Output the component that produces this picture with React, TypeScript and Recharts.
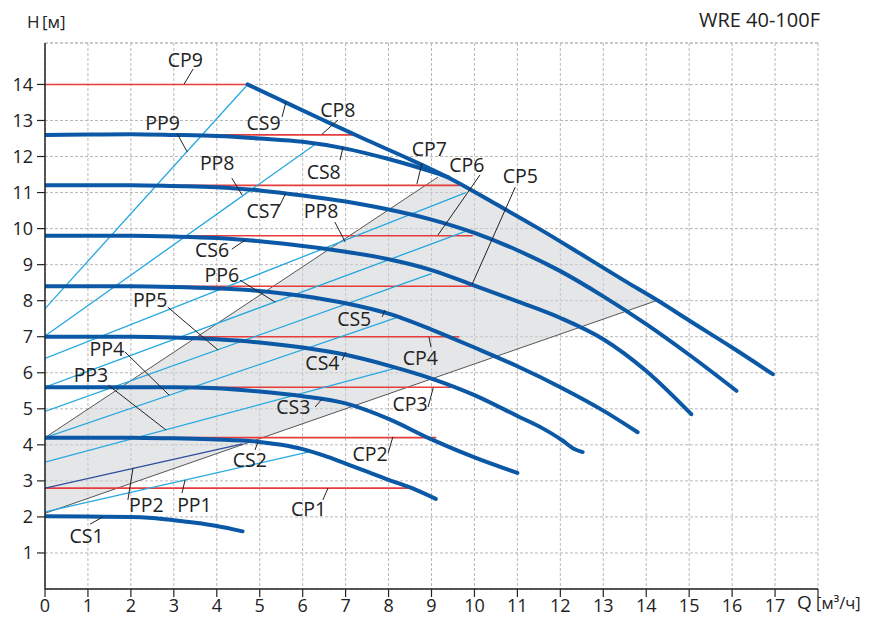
import { ComposedChart, Line, Area, XAxis, YAxis, CartesianGrid, ReferenceLine, ReferenceDot } from 'recharts';

type Pt = [number, number];

// constant speed curves (Q m3/h, H m)
const cs1: Pt[] = [[0, 2.02], [1, 2.01], [2, 2.0], [2.5, 1.97], [3, 1.91], [3.5, 1.84], [4, 1.75], [4.6, 1.6]];
const cs2: Pt[] = [[0, 4.2], [1, 4.2], [2, 4.2], [3, 4.18], [4, 4.15], [5, 4.08], [5.5, 4.0], [6, 3.88], [6.5, 3.7], [7, 3.48], [7.5, 3.26], [8, 3.03], [8.6, 2.77], [9.1, 2.5]];
const cs3: Pt[] = [[0, 5.6], [1, 5.6], [2, 5.6], [3, 5.6], [4, 5.57], [5, 5.48], [6, 5.35], [7, 5.15], [8, 4.72], [9, 4.15], [10, 3.65], [11, 3.22]];
const cs4: Pt[] = [[0, 7.0], [1, 7.0], [2, 7.0], [3, 6.98], [4, 6.93], [5, 6.84], [6, 6.7], [7, 6.5], [8, 6.2], [9, 5.84], [10, 5.38], [11, 4.8], [11.6, 4.45], [12.05, 4.12], [12.3, 3.9], [12.52, 3.8]];
const cs5: Pt[] = [[0, 8.4], [1, 8.4], [2, 8.4], [3, 8.38], [4, 8.34], [5, 8.27], [6, 8.13], [7, 7.93], [8, 7.64], [9, 7.2], [10, 6.7], [11, 6.18], [12, 5.6], [13, 4.95], [13.8, 4.35]];
const cs6: Pt[] = [[0, 9.8], [1, 9.8], [2, 9.8], [3, 9.78], [4, 9.74], [5, 9.65], [6, 9.52], [7, 9.36], [8, 9.15], [9, 8.85], [10, 8.42], [11, 7.98], [12, 7.52], [13, 6.93], [14, 6.05], [15.05, 4.85]];
const cs7: Pt[] = [[0, 11.2], [1, 11.2], [2, 11.2], [3, 11.18], [4, 11.15], [5, 11.06], [6, 10.92], [7, 10.75], [8, 10.53], [9, 10.25], [10, 9.88], [11, 9.4], [12, 8.82], [13, 8.12], [14, 7.35], [15, 6.5], [16.1, 5.5]];
const cs8: Pt[] = [[0, 12.6], [1, 12.61], [2, 12.62], [3, 12.6], [4, 12.57], [5, 12.5], [6, 12.41], [7, 12.22], [8, 11.93], [9, 11.58], [9.4, 11.42]];
const cs9: Pt[] = [[4.72, 14.0], [5.5, 13.56], [6.5, 13.0], [7.5, 12.45], [8.5, 11.92], [9.5, 11.35], [10.5, 10.68], [11.5, 10.0], [12.5, 9.28], [13.5, 8.55], [14.26, 8.01], [15, 7.45], [16, 6.7], [16.95, 5.96]];
const csCurves = [cs1, cs2, cs3, cs4, cs5, cs6, cs7, cs8, cs9];

// constant pressure lines CP1..CP9
const cpH = [2.8, 4.2, 5.6, 7.0, 8.4, 9.8, 11.2, 12.6, 14.0];
const cpEndQ = [8.53, 9.11, 9.46, 9.65, 9.93, 9.96, 9.65, 7.25, 4.72];

// proportional pressure lines PP1..PP9
const ppStartH = [2.14, 2.8, 3.52, 4.2, 4.93, 5.6, 6.4, 7.02, 7.78];
const ppEndQ = [6.12, 4.6, 8.17, 8.29, 9.0, 9.85, 9.8, 6.32, 4.72];
const ppEndH = [3.8, 4.03, 6.13, 7.57, 8.75, 9.95, 11.0, 12.36, 14.0];

// working range borders and shaded band
const lowBorder: Pt[] = [[0, 2.1], [14.26, 8.01]];
const highBorder: Pt[] = [[0, 4.2], [9.15, 11.43]];
const bandQ = [0, 9.15, 9.5, 10.5, 11.5, 12.5, 13.5, 14.26];
const bandLow = [2.1, 5.89, 6.04, 6.45, 6.87, 7.28, 7.7, 8.01];
const bandHigh = [4.2, 11.43, 11.35, 10.68, 10.0, 9.28, 8.55, 8.01];

const xTicks = [0, 1, 2, 3, 4, 5, 6, 7, 8, 9, 10, 11, 12, 13, 14, 15, 16, 17, 18];
const yTicks = [1, 2, 3, 4, 5, 6, 7, 8, 9, 10, 11, 12, 13, 14];

// curve labels: name, anchor (Q, H), leader from -> to
const labelNames = ['CP9', 'PP9', 'CS9', 'CP8', 'PP8', 'CS8', 'CP7', 'CS7', 'CP6', 'CP5', 'PP8', 'CS6', 'PP6', 'PP5', 'CS5', 'PP4', 'CP4', 'CS4', 'PP3', 'CP3', 'CS3', 'CS2', 'CP2', 'PP2', 'PP1', 'CP1', 'CS1'];
const labelQ = [3.27, 2.74, 5.09, 6.82, 4.01, 6.49, 8.95, 5.09, 9.82, 11.07, 6.43, 3.89, 4.12, 2.45, 7.2, 1.44, 8.74, 6.46, 1.07, 8.5, 5.78, 4.77, 7.57, 2.36, 3.48, 6.14, 0.97];
const labelH = [14.67, 12.94, 12.94, 13.3, 11.81, 11.56, 12.21, 10.5, 11.76, 11.45, 10.5, 9.41, 8.71, 8.03, 7.48, 6.65, 6.42, 6.28, 5.94, 5.12, 5.04, 3.59, 3.73, 2.33, 2.34, 2.21, 1.48];
const leaderFrom: Pt[] = [[3.45, 14.43], [3.07, 12.65], [5.52, 13.1], [6.82, 13.01], [4.35, 11.4], [6.87, 11.9], [8.78, 11.82], [5.45, 10.6], [10.13, 11.49], [10.95, 11.15], [6.75, 10.18], [4.35, 9.43], [4.54, 8.57], [2.86, 7.82], [7.85, 7.55], [1.86, 6.58], [8.99, 6.71], [6.92, 6.35], [1.47, 5.66], [8.92, 5.05], [6.29, 5.05], [4.89, 3.86], [7.99, 3.77], [1.93, 2.47], [3.19, 2.66], [6.47, 2.47], [1.05, 1.8]];
const leaderTo: Pt[] = [[3.24, 14.01], [3.31, 12.13], [5.61, 13.51], [6.45, 12.62], [4.59, 10.93], [6.94, 12.26], [8.66, 11.24], [5.61, 10.99], [9.15, 9.82], [9.94, 8.44], [6.99, 9.63], [4.66, 9.68], [5.36, 7.96], [4.03, 6.63], [7.92, 7.74], [2.89, 5.38], [8.94, 6.99], [7.01, 6.58], [2.82, 4.41], [9.04, 5.58], [6.45, 5.27], [4.96, 4.08], [8.1, 4.22], [2.05, 3.36], [3.26, 3.02], [6.59, 2.8], [1.35, 2.0]];

const FONT = "'Open Sans', 'Noto Sans', sans-serif";
const TXT = '#222';

const rows = (pts: Pt[]) => pts.map(([q, h]) => ({ q, h }));
const bandRows = bandQ.map((q, i) => ({ q, band: [bandLow[i], bandHigh[i]] }));

export default function App() {
  return (
    <div style={{ position: 'absolute', left: 0, top: 0, width: 871, height: 620, fontFamily: FONT, color: TXT, background: '#fff' }}>
      <ComposedChart width={871} height={620} margin={{ top: 43, right: 53, bottom: 0, left: 0 }} style={{ fontFamily: FONT }}>
        <CartesianGrid stroke="#b8b8b8" strokeDasharray="3 2" />
        <XAxis
          type="number"
          dataKey="q"
          domain={[0, 18]}
          ticks={xTicks}
          allowDataOverflow
          interval={0}
          height={31}
          tickSize={8}
          tickFormatter={(v: number) => (v === 18 ? '' : String(v))}
          tick={{ fontSize: 18, fill: TXT }}
          axisLine={{ stroke: TXT, strokeWidth: 1.5 }}
          tickLine={{ stroke: TXT, strokeWidth: 1.2 }}
        />
        <YAxis
          type="number"
          domain={[0, 15.15]}
          ticks={yTicks}
          allowDataOverflow
          interval={0}
          width={45}
          tickSize={8}
          tickMargin={4}
          tick={{ fontSize: 18, fill: TXT }}
          axisLine={{ stroke: TXT, strokeWidth: 1.5 }}
          tickLine={{ stroke: TXT, strokeWidth: 1.2 }}
        />
        <ReferenceLine y={15.15} stroke="#b8b8b8" strokeDasharray="3 2" />

        <Area data={bandRows} dataKey="band" type="linear" stroke="none" fill="#cfd1d4" fillOpacity={0.55} isAnimationActive={false} />

        <Line data={rows(lowBorder)} dataKey="h" type="linear" stroke="#555" strokeWidth={1} dot={false} isAnimationActive={false} />
        <Line data={rows(highBorder)} dataKey="h" type="linear" stroke="#555" strokeWidth={1} dot={false} isAnimationActive={false} />

        {cpH.map((h, i) => (
          <Line key={`cp${i}`} data={rows([[0, h], [cpEndQ[i], h]])} dataKey="h" type="linear" stroke="#e63c3c" strokeWidth={1.6} dot={false} isAnimationActive={false} />
        ))}

        {ppStartH.map((h, i) => (
          <Line
            key={`pp${i}`}
            data={rows([[0, h], [ppEndQ[i], ppEndH[i]]])}
            dataKey="h"
            type="linear"
            stroke={i === 1 ? '#2b4c9e' : '#25a8e0'}
            strokeWidth={1.3}
            dot={false}
            isAnimationActive={false}
          />
        ))}

        {csCurves.map((c, i) => (
          <Line key={`cs${i}`} data={rows(c)} dataKey="h" type="monotone" stroke="#0b59a6" strokeWidth={4} strokeLinecap="round" dot={false} isAnimationActive={false} />
        ))}

        {leaderFrom.map((p, i) => (
          <ReferenceLine
            key={`ld${i}`}
            segment={[{ x: p[0], y: p[1] }, { x: leaderTo[i][0], y: leaderTo[i][1] }]}
            stroke={TXT}
            strokeWidth={1}
            ifOverflow="visible"
          />
        ))}

        {labelNames.map((name, i) => (
          <ReferenceDot
            key={`lb${i}`}
            x={labelQ[i]}
            y={labelH[i]}
            r={0}
            fill="none"
            stroke="none"
            ifOverflow="visible"
            label={{ value: name, position: 'center', fontSize: 19.5, fill: TXT, fontFamily: FONT }}
          />
        ))}
      </ComposedChart>

      <div style={{ position: 'absolute', left: 27, top: 13, fontSize: 17, lineHeight: 1 }}>H</div>
      <div style={{ position: 'absolute', left: 42, top: 13, fontSize: 17, lineHeight: 1 }}>[м]</div>
      <div style={{ position: 'absolute', right: 51, top: 10, fontSize: 20, lineHeight: 1 }}>WRE 40-100F</div>
      <div style={{ position: 'absolute', left: 797, top: 593, fontSize: 19, lineHeight: 1 }}>Q</div>
      <div style={{ position: 'absolute', left: 816, top: 595, fontSize: 16.5, lineHeight: 1 }}>[м³/ч]</div>
    </div>
  );
}
